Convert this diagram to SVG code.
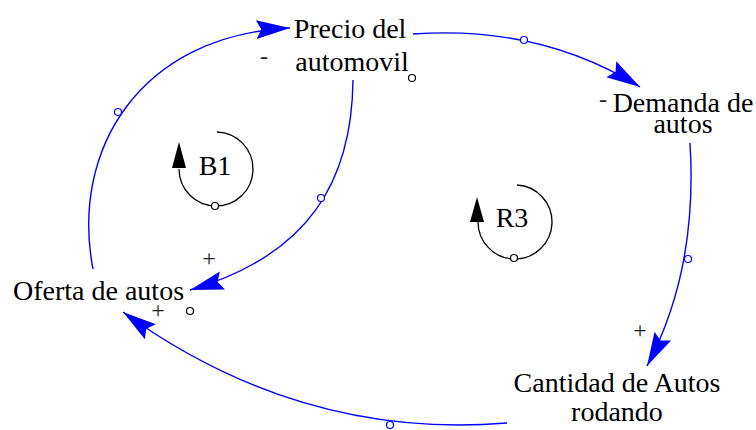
<svg xmlns="http://www.w3.org/2000/svg" width="756" height="430" viewBox="0 0 756 430">
<style>
.t{font-size:28px;fill:#000}
.s{font-size:24px;fill:#222}
.c{fill:none;stroke:#0000ff;stroke-width:1.4}
.l{fill:none;stroke:#000;stroke-width:1.3}
.hb{fill:#fff;stroke:#0000ff;stroke-width:1.2}
.hk{fill:#fff;stroke:#000;stroke-width:1.2}
</style>
<defs>
<marker id="ah" markerUnits="userSpaceOnUse" markerWidth="40" markerHeight="30" refX="0" refY="0" viewBox="-30 -10 32 20" orient="auto">
<path d="M0,0 L-27,-7.5 L-23,0 L-27,7.5 Z" fill="#0000ff"/>
</marker>
</defs>
<rect width="756" height="430" fill="#fff"/>
<g id="connectors">
<path class="c" d="M93,269 C70,150 140,35 290,28" marker-end="url(#ah)"/>
<circle class="hb" cx="118" cy="112" r="3.5"/>
<path class="c" d="M413,34 Q540,25 640,87" marker-end="url(#ah)"/>
<circle class="hb" cx="524" cy="40" r="3.5"/>
<path class="c" d="M690,143 Q698,270 647,366" marker-end="url(#ah)"/>
<circle class="hb" cx="688" cy="259" r="3.5"/>
<path class="c" d="M507,423 Q300,440 123,312" marker-end="url(#ah)"/>
<circle class="hb" cx="390" cy="425" r="3.5"/>
<path class="c" d="M353,80 C352,180 310,255 190,290" marker-end="url(#ah)"/>
<circle class="hb" cx="321" cy="198" r="3.5"/>
</g>
<g font-family="Liberation Serif, Times New Roman, serif">
<g id="precio">
<text class="t" x="350" y="38" text-anchor="middle">Precio del</text>
<text class="t" x="352" y="71" text-anchor="middle">automovil</text>
<circle class="hk" cx="412" cy="78" r="3.5"/>
</g>
<g id="demanda">
<text class="t" x="683" y="112" text-anchor="middle">Demanda de</text>
<text class="t" x="683" y="133" text-anchor="middle">autos</text>
</g>
<g id="cantidad">
<text class="t" x="617" y="392" text-anchor="middle">Cantidad de Autos</text>
<text class="t" x="617" y="421" text-anchor="middle">rodando</text>
</g>
<g id="oferta">
<text class="t" x="13" y="300">Oferta de autos</text>
<circle class="hk" cx="190" cy="311" r="3.5"/>
</g>
<g id="signs">
<text class="s" x="264" y="64" text-anchor="middle">-</text>
<text class="s" x="603" y="107" text-anchor="middle">-</text>
<text class="s" x="640" y="338" text-anchor="middle">+</text>
<text class="s" x="209" y="266" text-anchor="middle">+</text>
<text class="s" x="158" y="318" text-anchor="middle">+</text>
</g>
<g id="loopB1">
<path class="l" d="M217,132 A37,37 0 1 1 179,169"/>
<polygon points="179,142 172,168 186,168" fill="#000"/>
<circle class="hk" cx="215" cy="206" r="3.5"/>
<text class="t" x="215" y="175" text-anchor="middle">B1</text>
</g>
<g id="loopR3">
<path class="l" d="M517,185 A37,37 0 1 1 478,222"/>
<polygon points="477,197 470,222 484,222" fill="#000"/>
<circle class="hk" cx="514" cy="258" r="3.5"/>
<text class="t" x="512" y="227" text-anchor="middle">R3</text>
</g>
</g>
</svg>
